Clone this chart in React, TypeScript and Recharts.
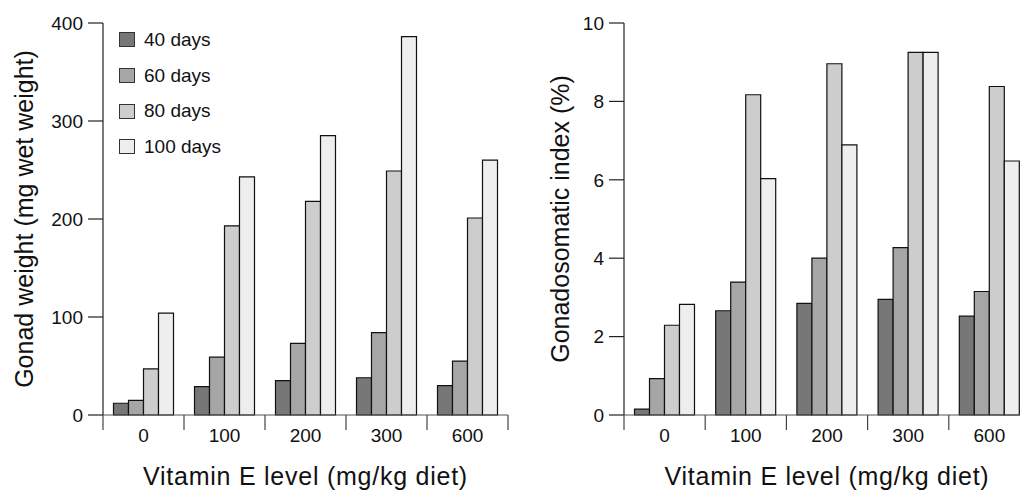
import { BarChart, Bar, XAxis, YAxis, Legend } from 'recharts';

const LEVELS = ['0', '100', '200', '300', '600'];
const SERIES = ['40 days', '60 days', '80 days', '100 days'];
const COLORS = ['#777777', '#a6a6a6', '#cdcdcd', '#eeeeee'];

// gonad weight (mg wet weight)
const WEIGHT_40 = [12, 29, 35, 38, 30];
const WEIGHT_60 = [15, 59, 73, 84, 55];
const WEIGHT_80 = [47, 193, 218, 249, 201];
const WEIGHT_100 = [104, 243, 285, 386, 260];
const WEIGHT_TICKS = [0, 100, 200, 300, 400];

// gonadosomatic index (%)
const GSI_40 = [0.15, 2.66, 2.85, 2.95, 2.52];
const GSI_60 = [0.93, 3.39, 4.0, 4.27, 3.15];
const GSI_80 = [2.29, 8.17, 8.96, 9.25, 8.38];
const GSI_100 = [2.82, 6.03, 6.89, 9.25, 6.48];
const GSI_TICKS = [0, 2, 4, 6, 8, 10];

const FONT = '"Liberation Sans", Arial, Helvetica, sans-serif';
const KEYS = ['s0', 's1', 's2', 's3'];

function buildRows(series: number[][]) {
  return LEVELS.map((level, i) => {
    const row: Record<string, string | number> = { level };
    series.forEach((vals, k) => {
      row[KEYS[k]] = vals[i];
    });
    return row;
  });
}

const weightRows = buildRows([WEIGHT_40, WEIGHT_60, WEIGHT_80, WEIGHT_100]);
const gsiRows = buildRows([GSI_40, GSI_60, GSI_80, GSI_100]);

// label in the middle of each group, divider ticks on the group edges
function GroupTick(props: any) {
  const { x, y, payload, index, band } = props;
  const last = index === LEVELS.length - 1;
  return (
    <g>
      <line x1={x - band / 2} x2={x - band / 2} y1={y} y2={y + 15} stroke="#444" strokeWidth={1.2} />
      {last && <line x1={x + band / 2} x2={x + band / 2} y1={y} y2={y + 15} stroke="#444" strokeWidth={1.2} />}
      <text x={x} y={y + 27} textAnchor="middle" fontSize={19} fill="#111" fontFamily={FONT}>
        {payload.value}
      </text>
    </g>
  );
}

function LegendBox(props: any) {
  const items = [...(props.payload || [])].sort(
    (a: any, b: any) => KEYS.indexOf(a.dataKey) - KEYS.indexOf(b.dataKey)
  );
  return (
    <div style={{ fontFamily: FONT, fontSize: 19, color: '#111' }}>
      {items.map((it: any) => (
        <div key={it.value} style={{ display: 'flex', alignItems: 'center', height: 35.7 }}>
          <span
            style={{
              display: 'inline-block',
              width: 16,
              height: 15,
              boxSizing: 'border-box',
              border: '1px solid #333',
              background: it.color,
              marginRight: 9,
            }}
          />
          <span>{it.value}</span>
        </div>
      ))}
    </div>
  );
}

interface PanelProps {
  rows: Record<string, string | number>[];
  ticks: number[];
  yLabel: string;
  width: number;
  marginLeft: number;
  marginRight: number;
  labelOffset: number;
  legend?: boolean;
}

function Panel({ rows, ticks, yLabel, width, marginLeft, marginRight, labelOffset, legend }: PanelProps) {
  const band = (width - marginLeft - 85 - marginRight) / LEVELS.length;
  return (
    <BarChart
      width={width}
      height={491}
      data={rows}
      margin={{ top: 23, right: marginRight, bottom: 0, left: marginLeft }}
      barCategoryGap={10.5}
      barGap={0}
    >
      <XAxis
        dataKey="level"
        interval={0}
        height={76}
        tickLine={false}
        tickSize={0}
        tickMargin={0}
        axisLine={{ stroke: '#555', strokeWidth: 1.2 }}
        tick={(p: any) => <GroupTick {...p} band={band} />}
        label={{
          value: 'Vitamin E level (mg/kg diet)',
          position: 'insideBottom',
          offset: 6,
          style: { fontSize: 25, fill: '#111', fontFamily: FONT, letterSpacing: 0.75 },
        }}
      />
      <YAxis
        width={85}
        domain={[ticks[0], ticks[ticks.length - 1]]}
        ticks={ticks}
        interval={0}
        tickSize={15}
        tickMargin={5}
        axisLine={{ stroke: '#222', strokeWidth: 1.2 }}
        tickLine={{ stroke: '#222', strokeWidth: 1.2 }}
        tick={{ fontSize: 19, fill: '#111', fontFamily: FONT }}
        label={{
          value: yLabel,
          angle: -90,
          position: 'insideLeft',
          offset: labelOffset,
          style: { textAnchor: 'middle', fontSize: 25, fill: '#111', fontFamily: FONT },
        }}
      />
      {legend && (
        <Legend
          layout="vertical"
          align="center"
          verticalAlign="middle"
          wrapperStyle={{ left: 119, top: 22, width: 'auto' }}
          content={<LegendBox />}
        />
      )}
      {KEYS.map((key, k) => (
        <Bar
          key={key}
          dataKey={key}
          name={SERIES[k]}
          fill={COLORS[k]}
          stroke="#111"
          strokeWidth={1.2}
          isAnimationActive={false}
        />
      ))}
    </BarChart>
  );
}

export default function App() {
  return (
    <div
      style={{
        position: 'fixed',
        left: 0,
        top: 0,
        width: 1020,
        height: 491,
        overflow: 'hidden',
        background: '#fff',
      }}
    >
      <div style={{ position: 'absolute', left: 0, top: 0 }}>
        <Panel
          rows={weightRows}
          ticks={WEIGHT_TICKS}
          yLabel="Gonad weight (mg wet weight)"
          width={510}
          marginLeft={18}
          marginRight={2}
          labelOffset={6}
          legend
        />
      </div>
      <div style={{ position: 'absolute', left: 510, top: 0 }}>
        <Panel
          rows={gsiRows}
          ticks={GSI_TICKS}
          yLabel="Gonadosomatic index (%)"
          width={530}
          marginLeft={29}
          marginRight={10}
          labelOffset={21}
        />
      </div>
    </div>
  );
}
